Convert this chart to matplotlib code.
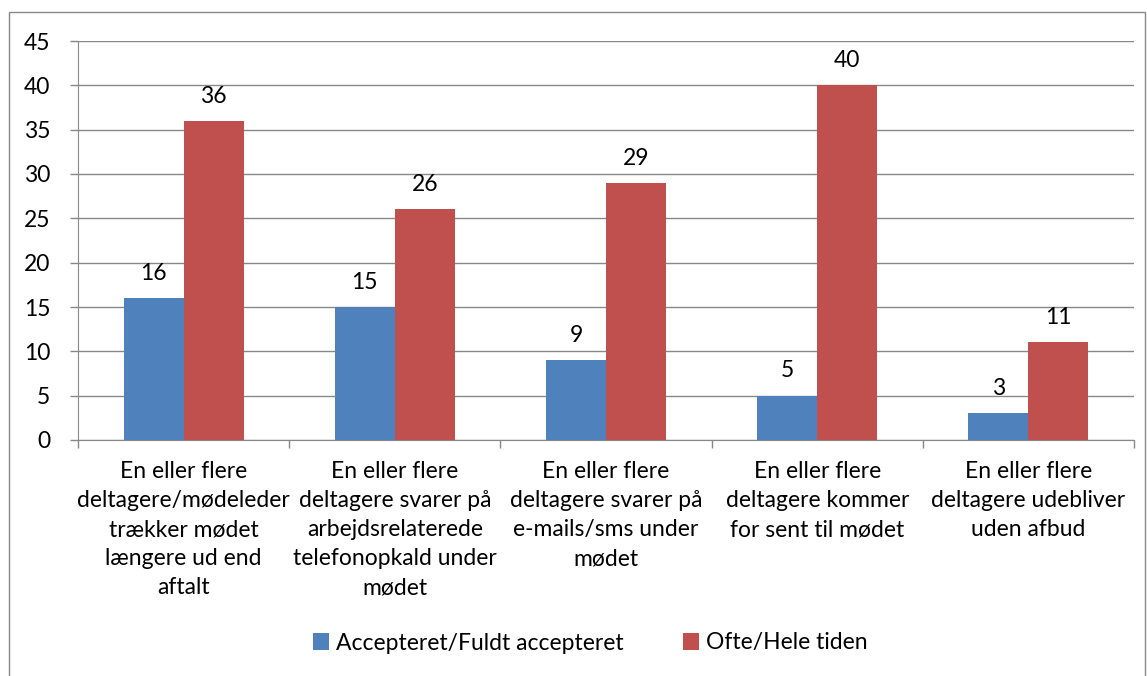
import matplotlib.pyplot as plt
import numpy as np
from matplotlib.patches import Rectangle

plt.rcParams['font.family'] = ['Lato', 'DejaVu Sans']

categories = [
    "En eller flere\ndeltagere/mødeleder\ntrækker mødet\nlængere ud end\naftalt",
    "En eller flere\ndeltagere svarer på\narbejdsrelaterede\ntelefonopkald under\nmødet",
    "En eller flere\ndeltagere svarer på\ne-mails/sms under\nmødet",
    "En eller flere\ndeltagere kommer\nfor sent til mødet",
    "En eller flere\ndeltagere udebliver\nuden afbud",
]
accepteret = [16, 15, 9, 5, 3]
ofte = [36, 26, 29, 40, 11]
series_names = ["Accepteret/Fuldt accepteret", "Ofte/Hele tiden"]
colors = ["#4F81BD", "#C0504D"]

fs = 16.5

fig = plt.figure(figsize=(11.47, 6.76), dpi=100)
ax = fig.add_axes([78/1147, 1 - 440/676, (1134-78)/1147, (440-41)/676])

x = np.arange(len(categories))
w = 0.284
b1 = ax.bar(x - w/2, accepteret, w, color=colors[0], label=series_names[0], zorder=3)
b2 = ax.bar(x + w/2, ofte, w, color=colors[1], label=series_names[1], zorder=3)
for bars in (b1, b2):
    for r in bars:
        ax.text(r.get_x() + r.get_width()/2, r.get_height() + 1.6, str(int(r.get_height())),
                ha='center', va='bottom', fontsize=fs)

ax.set_ylim(0, 45)
ax.set_yticks(range(0, 46, 5))
ax.set_xlim(-0.5, len(categories) - 0.5)
ax.yaxis.grid(True, color='#888888', linewidth=1, zorder=0)
for s in ['top', 'right']:
    ax.spines[s].set_visible(False)
for s in ['left', 'bottom']:
    ax.spines[s].set_color('#888888')
ax.tick_params(axis='y', colors='#888888', labelcolor='black', labelsize=fs, length=6, width=1, pad=14)
ax.set_xticks(np.arange(-0.5, len(categories), 1))
ax.set_xticklabels([])
ax.tick_params(axis='x', colors='#888888', length=6, width=1)
ax.set_xticks(x, minor=True)
ax.set_xticklabels(categories, minor=True, fontsize=fs, linespacing=1.48, va='top')
ax.tick_params(axis='x', which='minor', length=0, pad=15, labelcolor='black')

fig.legend(handles=[b1, b2], loc='center', bbox_to_anchor=(590/1147, 1 - 643/676), ncol=2,
           frameon=False, fontsize=fs, handlelength=0.7, handleheight=0.7,
           handletextpad=0.3, columnspacing=2.6)

fig.patches.append(Rectangle((9/1147, -0.01), (1145-9)/1147, 1 - 12/676 + 0.01,
                             transform=fig.transFigure, fill=False, edgecolor='#888888',
                             linewidth=1))

fig.savefig("out.png", dpi=100)
